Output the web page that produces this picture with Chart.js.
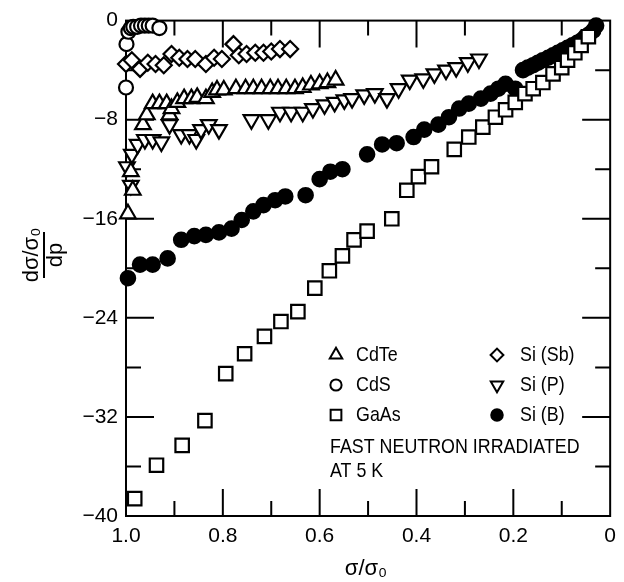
<!DOCTYPE html>
<html>
<head>
<meta charset="utf-8">
<script src="https://cdn.jsdelivr.net/npm/chart.js@4.4.1/dist/chart.umd.min.js"></script>
<style>
  html, body { margin: 0; padding: 0; background: #fff; }
  #wrap { width: 624px; height: 582px; }
</style>
</head>
<body>
<div id="wrap"><canvas id="myChart" width="624" height="582"></canvas></div>
<script>
// tick labels
const xTicks = [1.0, 0.8, 0.6, 0.4, 0.2, 0];
const yTicks = [0, -8, -16, -24, -32, -40];

// CdTe (open triangles)
const cdteX = [0.996, 0.986, 0.99, 0.965, 0.957, 0.945, 0.931, 0.91, 0.916, 0.906, 0.894, 0.880, 0.865, 0.853, 0.835, 0.822, 0.812, 0.798, 0.773, 0.753, 0.737, 0.720, 0.702, 0.686, 0.669, 0.651, 0.635, 0.618, 0.600, 0.584, 0.567];
const cdteY = [-15.6, -13.7, -12.2, -8.4, -7.6, -6.7, -6.7, -7.6, -6.7, -7.1, -6.6, -6.3, -6.3, -6.2, -6.3, -5.8, -5.6, -5.6, -5.5, -5.5, -5.5, -5.5, -5.5, -5.5, -5.5, -5.5, -5.4, -5.2, -5.1, -5.0, -4.8];

// CdS (open circles)
const cdsX = [1.0, 0.999, 0.995, 0.99, 0.985, 0.977, 0.969, 0.961, 0.953, 0.945, 0.931];
const cdsY = [-5.4, -1.9, -0.9, -0.6, -0.5, -0.5, -0.4, -0.4, -0.4, -0.4, -0.6];

// GaAs (open squares)
const gaasX = [0.982, 0.937, 0.884, 0.837, 0.794, 0.755, 0.714, 0.680, 0.645, 0.610, 0.580, 0.553, 0.529, 0.502, 0.451, 0.420, 0.396, 0.369, 0.322, 0.292, 0.263, 0.237, 0.216, 0.196, 0.176, 0.159, 0.139, 0.118, 0.100, 0.088, 0.073, 0.060, 0.045];
const gaasY = [-38.6, -35.9, -34.3, -32.3, -28.5, -26.9, -25.5, -24.3, -23.5, -21.6, -20.2, -19.0, -17.7, -17.0, -16.0, -13.7, -12.6, -11.8, -10.4, -9.4, -8.6, -7.8, -7.2, -6.6, -5.9, -5.5, -5.0, -4.3, -3.8, -3.2, -2.6, -2.0, -1.3];

// Si (Sb) (open diamonds)
const sbX = [1.0, 0.988, 0.971, 0.955, 0.939, 0.922, 0.906, 0.890, 0.873, 0.857, 0.835, 0.818, 0.802, 0.778, 0.767, 0.751, 0.733, 0.716, 0.700, 0.682, 0.661];
const sbY = [-3.5, -3.2, -3.9, -3.4, -3.5, -3.6, -2.7, -3.0, -3.1, -3.1, -3.5, -3.0, -3.1, -1.9, -2.8, -2.7, -2.6, -2.6, -2.5, -2.3, -2.3];

// Si (P) (open down triangles)
const pX = [0.99, 0.998, 0.988, 0.976, 0.961, 0.945, 0.927, 0.910, 0.886, 0.869, 0.855, 0.845, 0.829, 0.808, 0.741, 0.706, 0.682, 0.659, 0.635, 0.614, 0.590, 0.569, 0.549, 0.533, 0.508, 0.486, 0.461, 0.437, 0.414, 0.386, 0.363, 0.339, 0.318, 0.294, 0.271];
const pY = [-13.3, -11.8, -10.8, -10.0, -9.6, -9.6, -9.8, -8.4, -9.2, -9.2, -9.6, -8.8, -8.4, -8.8, -8.0, -8.0, -7.4, -7.4, -7.4, -7.1, -6.8, -6.6, -6.4, -6.3, -6.0, -5.9, -6.3, -5.5, -4.8, -4.7, -4.3, -4.0, -3.8, -3.4, -3.1];

// Si (B) (filled circles)
const bX = [0.996, 0.971, 0.945, 0.914, 0.886, 0.859, 0.835, 0.808, 0.782, 0.761, 0.737, 0.716, 0.692, 0.671, 0.629, 0.600, 0.578, 0.553, 0.502, 0.471, 0.441, 0.406, 0.384, 0.355, 0.333, 0.312, 0.292, 0.267, 0.247, 0.231, 0.216, 0.196, 0.180, 0.170, 0.159, 0.149, 0.139, 0.128, 0.118, 0.108, 0.098, 0.088, 0.078, 0.068, 0.059, 0.051, 0.043, 0.035, 0.029];
const bY = [-20.8, -19.7, -19.7, -19.2, -17.7, -17.4, -17.3, -17.1, -16.8, -16.1, -15.4, -14.9, -14.5, -14.2, -14.1, -12.8, -12.2, -12.0, -10.8, -10.0, -9.9, -9.4, -8.8, -8.4, -7.8, -7.1, -6.7, -6.3, -5.9, -5.5, -5.1, -5.5, -4.0, -3.8, -3.6, -3.4, -3.2, -3.0, -2.8, -2.6, -2.4, -2.2, -2.0, -1.8, -1.6, -1.3, -1.1, -0.8, -0.4];

const noteLines = ['FAST NEUTRON IRRADIATED', 'AT 5 K'];

const pts = (xs, ys) => xs.map((v, i) => ({x: v, y: ys[i]}));

const mk = (label, xs, ys, style, radius, fill, rotation) => ({
  label: label,
  data: pts(xs, ys),
  pointStyle: style,
  pointRadius: radius,
  pointRotation: rotation || 0,
  pointBorderWidth: 2.2,
  pointBorderColor: '#000',
  pointBackgroundColor: fill,
  borderColor: '#000',
  backgroundColor: fill,
  showLine: false,
  clip: false
});

const datasets = [
  mk('CdTe', cdteX, cdteY, 'triangle', 9, '#fff'),
  mk('CdS', cdsX, cdsY, 'circle', 7, '#fff'),
  mk('GaAs', gaasX, gaasY, 'rect', 9.5, '#fff'),
  mk('Si (Sb)', sbX, sbY, 'rectRot', 8, '#fff'),
  mk('Si (P)', pX, pY, 'triangle', 9, '#fff', 180),
  mk('Si (B)', bX, bY, 'circle', 7.2, '#000')
];

// box + inward ticks
const frame = {
  id: 'frame',
  beforeDatasetsDraw(chart) {
    const {ctx, chartArea: a, scales: {x, y}} = chart;
    ctx.save();
    ctx.strokeStyle = '#000';
    ctx.lineWidth = 2;
    ctx.strokeRect(a.left, a.top, a.right - a.left, a.bottom - a.top);
    ctx.beginPath();
    for (let k = 1; k < 10; k++) {
      const px = x.getPixelForValue(k / 10);
      const len = k % 2 === 0 ? 27 : 15;
      ctx.moveTo(px, a.bottom); ctx.lineTo(px, a.bottom - len);
      ctx.moveTo(px, a.top); ctx.lineTo(px, a.top + len);
    }
    for (let k = 1; k < 10; k++) {
      const py = y.getPixelForValue(-4 * k);
      const len = k % 2 === 0 ? 28 : 15;
      ctx.moveTo(a.left, py); ctx.lineTo(a.left + len, py);
      ctx.moveTo(a.right, py); ctx.lineTo(a.right - len, py);
    }
    ctx.stroke();
    ctx.restore();
  }
};

// condensed text: squeeze horizontally
const narrowText = (ctx, text, x, y, squeeze) => {
  ctx.save();
  ctx.translate(x, y);
  ctx.scale(squeeze, 1);
  ctx.fillText(text, 0, 0);
  ctx.restore();
};

// titles, legend and note
const extras = {
  id: 'extras',
  afterDraw(chart) {
    const {ctx} = chart;
    ctx.save();
    ctx.fillStyle = '#000';
    ctx.strokeStyle = '#000';
    ctx.textBaseline = 'middle';

    // y title as a fraction
    ctx.save();
    ctx.translate(44, 255);
    ctx.rotate(-Math.PI / 2);
    ctx.font = '22px "Liberation Sans"';
    ctx.textAlign = 'center';
    ctx.fillText('d\u03c3/\u03c3\u2080', 0, -12);
    ctx.fillRect(-23, -1, 46, 2);
    ctx.fillText('dp', 0, 12);
    ctx.restore();

    // x title
    ctx.font = '22px "Liberation Sans"';
    ctx.textAlign = 'center';
    ctx.fillText('\u03c3/\u03c3\u2080', 366, 569);

    // legend
    ctx.font = '21px "Liberation Sans"';
    ctx.textAlign = 'left';
    chart.data.datasets.forEach((ds, i) => {
      const col = Math.floor(i / 3), row = i % 3;
      const sx = col === 0 ? 336 : 497;
      const tx = col === 0 ? 356 : 520;
      const ty = 355 + row * 30;
      ctx.fillStyle = ds.pointBackgroundColor;
      ctx.lineWidth = 2;
      Chart.helpers.drawPoint(ctx, {
        pointStyle: ds.pointStyle,
        rotation: ds.pointRotation,
        radius: ds.pointRadius * 0.8,
        borderWidth: 2
      }, sx, ty);
      ctx.fillStyle = '#000';
      narrowText(ctx, ds.label, tx, ty, 0.85);
    });
    noteLines.forEach((t, i) => narrowText(ctx, t, 330, 447 + i * 24, 0.85));
    ctx.restore();
  }
};

const config = {
  type: 'scatter',
  data: { datasets: datasets },
  options: {
    responsive: false,
    animation: false,
    devicePixelRatio: 1,
    layout: { padding: { left: 0, right: 8, top: 18, bottom: 0 } },
    plugins: {
      legend: { display: false },
      tooltip: { enabled: false }
    },
    scales: {
      x: {
        type: 'linear',
        reverse: true,
        min: 0,
        max: 1,
        afterBuildTicks: (scale) => { scale.ticks = xTicks.map(v => ({value: v})); },
        afterFit: (scale) => { scale.height = 66; },
        ticks: {
          color: '#000',
          padding: 8,
          maxRotation: 0,
          font: { family: 'Liberation Sans', size: 21 },
          callback: (v) => v === 0 ? '0' : v.toFixed(1)
        },
        grid: { display: false, drawTicks: false },
        border: { display: false }
      },
      y: {
        type: 'linear',
        min: -40,
        max: 0,
        afterBuildTicks: (scale) => { scale.ticks = yTicks.map(v => ({value: v})); },
        afterFit: (scale) => { scale.width = 126; },
        ticks: {
          color: '#000',
          padding: 8,
          font: { family: 'Liberation Sans', size: 21 },
          callback: (v) => v === 0 ? '0' : '\u2212' + Math.abs(v)
        },
        grid: { display: false, drawTicks: false },
        border: { display: false }
      }
    }
  },
  plugins: [frame, extras]
};

const myChart = new Chart(document.getElementById('myChart'), config);
</script>
</body>
</html>
